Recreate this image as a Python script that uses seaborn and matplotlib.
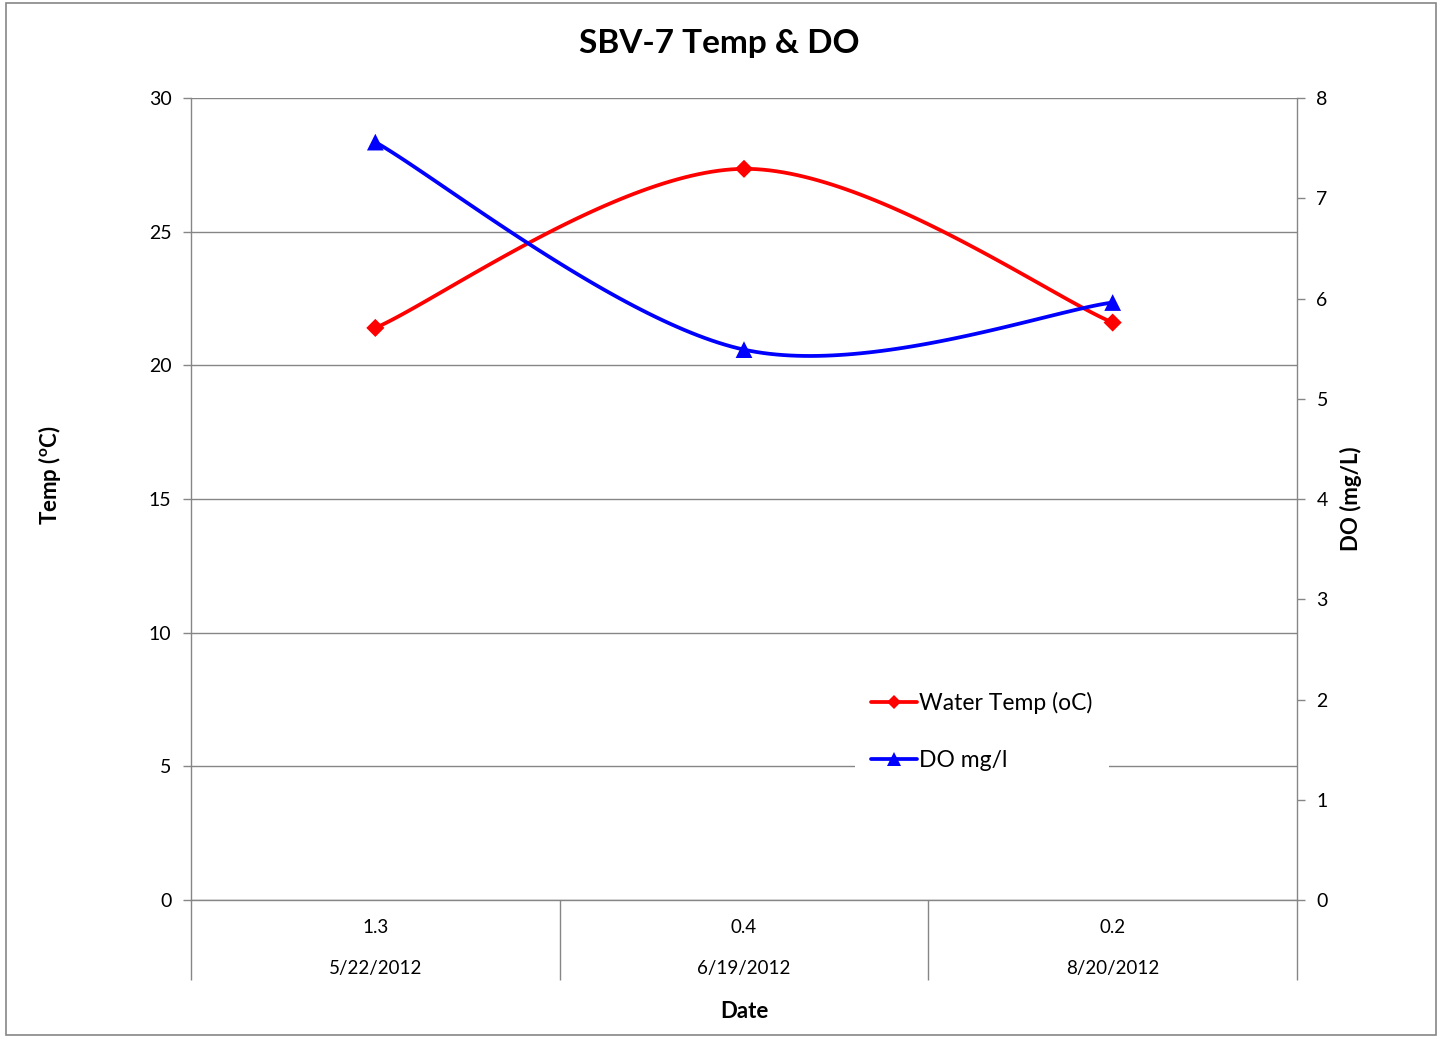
import numpy as np
import pandas as pd
import seaborn as sns
import matplotlib
matplotlib.use("Agg")
import matplotlib.pyplot as plt
from matplotlib.lines import Line2D
from matplotlib.patches import Rectangle

# Sampling data
dates = ["5/22/2012", "6/19/2012", "8/20/2012"]
category_values = ["1.3", "0.4", "0.2"]
water_temp = [21.4, 27.35, 21.6]
do_mgl = [7.56, 5.49, 5.96]

sns.set_theme(style="white")
plt.rcParams["font.family"] = ["Lato", "DejaVu Sans"]
plt.rcParams["mathtext.fontset"] = "custom"
plt.rcParams["mathtext.rm"] = "Lato"
plt.rcParams["mathtext.bf"] = "Lato:bold"
plt.rcParams["text.color"] = "black"
plt.rcParams["axes.labelcolor"] = "black"

GRID = "#868686"
TEXT = "#000000"


def smooth_curve(y, n=60):
    """Excel-style smoothed line: cubic Bezier segments through the points."""
    x = np.arange(len(y), dtype=float)
    pts = np.column_stack([x, np.asarray(y, dtype=float)])
    ext = np.vstack([pts[0], pts, pts[-1]])
    out = []
    t = np.linspace(0, 1, n)[:, None]
    for i in range(len(pts) - 1):
        p0, p3 = pts[i], pts[i + 1]
        c1 = p0 + (ext[i + 2] - ext[i]) / 6.0
        c2 = p3 - (ext[i + 3] - ext[i + 1]) / 6.0
        seg = ((1 - t) ** 3) * p0 + 3 * ((1 - t) ** 2) * t * c1 + 3 * (1 - t) * t ** 2 * c2 + t ** 3 * p3
        out.append(seg if i == 0 else seg[1:])
    seg = np.vstack(out)
    return seg[:, 0], seg[:, 1]


fig = plt.figure(figsize=(14.39, 10.37), dpi=100)
fig.patch.set_facecolor("white")
ax = fig.add_axes([191 / 1439, 1 - 900 / 1037, (1297 - 191) / 1439, (900 - 98) / 1037])
ax2 = ax.twinx()

# Temperature (left axis)
tx, ty = smooth_curve(water_temp)
sns.lineplot(x=tx, y=ty, ax=ax, color="#FF0000", lw=2.7, sort=False, estimator=None)
sns.scatterplot(x=np.arange(len(water_temp)), y=water_temp, ax=ax, color="#FF0000",
                marker="D", s=85, edgecolor="none", zorder=5)

# Dissolved oxygen (right axis)
dx, dy = smooth_curve(do_mgl)
sns.lineplot(x=dx, y=dy, ax=ax2, color="#0000FF", lw=2.7, sort=False, estimator=None)
sns.scatterplot(x=np.arange(len(do_mgl)), y=do_mgl, ax=ax2, color="#0000FF",
                marker="^", s=145, edgecolor="none", zorder=5)

# Axes ranges and ticks
ax.set_xlim(-0.5, len(dates) - 0.5)
ax.set_ylim(0, 30)
ax2.set_ylim(0, 8)
ax.set_yticks(np.arange(0, 31, 5))
ax2.set_yticks(np.arange(0, 9, 1))
ax.tick_params(axis="y", which="major", direction="out", length=6, width=1, color=GRID,
               labelsize=14, labelcolor=TEXT, pad=8, left=True)
ax2.tick_params(axis="y", which="major", direction="out", length=6, width=1, color=GRID,
                labelsize=14, labelcolor=TEXT, pad=8, right=True)

# Two-level category axis: value above date, with long divider ticks
ax.set_xticks(np.arange(-0.5, len(dates), 1.0))
ax.set_xticklabels([])
ax.tick_params(axis="x", which="major", direction="out", length=57.5, width=1, color=GRID, bottom=True)
ax.set_xticks(np.arange(len(dates)), minor=True)
ax.set_xticklabels([f"{v}\n{d}" for v, d in zip(category_values, dates)], minor=True,
                   linespacing=2.65)
ax.tick_params(axis="x", which="minor", length=0, labelsize=13.5, labelcolor=TEXT, pad=14)

# Horizontal gridlines
ax.yaxis.grid(True, color=GRID, lw=1)
ax.xaxis.grid(False)
ax2.grid(False)
ax.set_axisbelow(True)

for a in (ax, ax2):
    for side, sp in a.spines.items():
        sp.set_color(GRID)
        sp.set_linewidth(1)
    a.spines["top"].set_visible(False)
    a.patch.set_alpha(0)
ax2.spines["left"].set_visible(False)
ax2.spines["bottom"].set_visible(False)
ax.spines["right"].set_visible(False)

# Labels
ax.set_xlabel("Date", fontsize=16, fontweight="bold", labelpad=12)
ax.set_ylabel(r"Temp ($\mathbf{^{o}}$C)", fontsize=16, fontweight="bold")
ax.yaxis.set_label_coords(-0.116, 0.53)
ax2.set_ylabel("DO (mg/L)", fontsize=16, fontweight="bold", labelpad=9)
fig.text(0.5, 1 - 43 / 1037, "SBV-7 Temp & DO", ha="center", va="center",
         fontsize=24, fontweight="bold", color="black")

# Legend
handles = [
    Line2D([], [], color="#FF0000", lw=2.7, marker="D", markersize=7.5, markeredgewidth=0),
    Line2D([], [], color="#0000FF", lw=2.7, marker="^", markersize=10.5, markeredgewidth=0),
]
leg = ax2.legend(handles, ["Water Temp (oC)", "DO mg/l"], loc="upper left",
                 bbox_to_anchor=(855 / 1439, 1 - 676 / 1037), bbox_transform=fig.transFigure,
                 frameon=True, facecolor="white", edgecolor="white", framealpha=1,
                 fontsize=16.5, handlelength=2.0, handletextpad=0.1, labelspacing=1.55,
                 borderpad=0.7, borderaxespad=0, fancybox=False)
leg.get_frame().set_linewidth(0)
leg.set_zorder(20)
for txt in leg.get_texts():
    txt.set_color("black")

# Chart border
fig.patches.append(Rectangle((6 / 1439, 2 / 1037), 1430 / 1439, 1032 / 1037,
                             transform=fig.transFigure, fill=False, edgecolor="#868686", lw=1.2))

fig.savefig("out.png", dpi=100)
